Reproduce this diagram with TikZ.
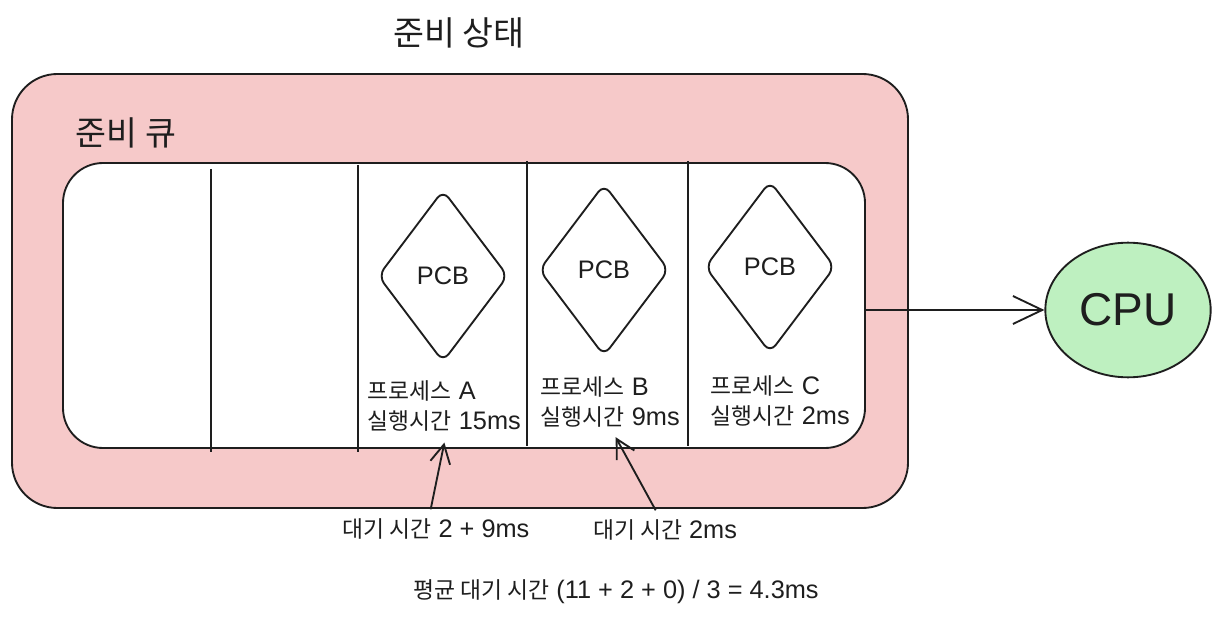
\documentclass[tikz,border=0pt]{standalone}
\usepackage{fontspec}
\setmainfont{Liberation Sans}
\newfontfamily\kr[Scale=0.9]{Noto Sans CJK KR}
\usepackage{xcolor}
\usepackage{tikz}
\usetikzlibrary{
    positioning,
    arrows.meta,
    shapes.geometric
}
\definecolor{readyPink}{RGB}{246, 201, 201}
\definecolor{cpuGreen}{RGB}{190, 240, 192}
\definecolor{inkBlack}{RGB}{30, 30, 30}

\begin{document}
\begin{tikzpicture}[x=0.75pt, y=-0.75pt, >={Straight Barb[length=14pt, width=15pt]},
        line width=1.4pt, inkBlack,
        stateBox/.style={draw=inkBlack, line width=1.4pt, inner sep=0pt},
        pcb/.style={diamond, draw=inkBlack, line width=1.4pt, rounded corners=7pt,
            minimum width=97.5pt, minimum height=129pt, inner sep=0pt,
            font=\fontsize{19}{22}\selectfont},
        info/.style={align=left, anchor=north west, inner sep=0pt,
            font=\fontsize{19}{22}\selectfont},
        waitLabel/.style={font=\fontsize{19}{22}\selectfont}]
        \useasboundingbox (0,0) rectangle (1220,620);

        % Ready state
        \node[stateBox, fill=readyPink, rounded corners=34pt,
            minimum width=672pt, minimum height=325.5pt] (ready) at (460,291) {};
        \node[font=\fontsize{28}{30}\selectfont\kr] (readyTitle) at (459,33) {준비 상태};

        % Ready queue
        \node[font=\fontsize{28}{30}\selectfont\kr, anchor=west, inner sep=0pt] (queueTitle) at (75,133) {준비 큐};
        \node[stateBox, fill=white, rounded corners=30pt,
            minimum width=601.5pt, minimum height=213.75pt] (queue) at (464,305.5) {};
        \foreach \x/\top/\bot in {211/169/452, 358/165/452, 527/161/446, 688/161/446}
            \draw (\x,\top) -- (\x,\bot);

        % PCBs
        \node[pcb] (pcbA) at (443,276) {PCB};
        \node[pcb] (pcbB) at (604,270) {PCB};
        \node[pcb] (pcbC) at (770,267) {PCB};
        \node[info] (infoA) at (367,380) {{\kr 프로세스} A\\{\kr 실행시간} 15ms};
        \node[info] (infoB) at (540,376) {{\kr 프로세스} B\\{\kr 실행시간} 9ms};
        \node[info] (infoC) at (710,375) {{\kr 프로세스} C\\{\kr 실행시간} 2ms};

        % CPU
        \node[ellipse, draw=inkBlack, fill=cpuGreen, line width=1.4pt,
            minimum width=124pt, minimum height=101pt,
            font=\fontsize{34.5}{36}\selectfont] (cpu) at (1128,310) {CPU};
        \draw[->, >={Straight Barb[length=22pt, width=21pt]}] (queue.east |- cpu.west) -- (cpu.west);

        % Waiting times
        \node[waitLabel] (waitA) at (436,529) {{\kr 대기 시간} 2 + 9ms};
        \node[waitLabel] (waitB) at (665,530) {{\kr 대기 시간} 2ms};
        \draw[->] ([xshift=-4pt, yshift=3pt]waitA.north) -- ([yshift=-8pt]infoA.south);
        \draw[->] ([xshift=-7pt, yshift=3pt]waitB.north) -- ([xshift=4pt, yshift=-7pt]infoB.south);

        \node[waitLabel] (average) at (616,592) {{\kr 평균 대기 시간} (11 + 2 + 0) / 3 = 4.3ms};
    \end{tikzpicture}
\end{document}
